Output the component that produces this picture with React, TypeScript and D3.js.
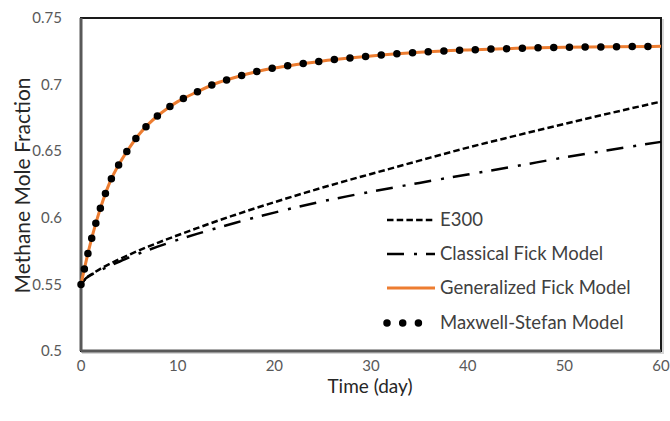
import React from "react";
import * as d3 from "d3";

const timeDays = [0, 0.5, 1, 1.5, 2, 3, 4, 5, 6, 7, 8, 9, 10, 12, 14, 16, 18, 20, 22.5, 25, 27.5, 30, 35, 40, 45, 50, 55, 60];
const e300 = [0.55, 0.5545, 0.5572, 0.5595, 0.5617, 0.5655, 0.569, 0.5723, 0.5755, 0.5785, 0.5814, 0.5842, 0.5869, 0.5922, 0.5974, 0.6023, 0.6071, 0.6117, 0.6173, 0.6227, 0.6279, 0.6329, 0.6429, 0.6527, 0.6617, 0.6705, 0.679, 0.6872];
const classicalFick = [0.55, 0.5545, 0.5569, 0.5589, 0.5607, 0.564, 0.5672, 0.5703, 0.5732, 0.5759, 0.5785, 0.581, 0.5834, 0.5879, 0.5922, 0.5963, 0.6002, 0.6039, 0.6083, 0.6124, 0.6161, 0.6196, 0.6262, 0.6325, 0.6388, 0.6453, 0.6513, 0.657];
const generalizedFick = [0.55, 0.5665, 0.5815, 0.595, 0.607, 0.627, 0.641, 0.6525, 0.6625, 0.6705, 0.677, 0.6825, 0.6872, 0.6945, 0.701, 0.7055, 0.7095, 0.7125, 0.7153, 0.7178, 0.7198, 0.7215, 0.7243, 0.726, 0.7272, 0.728, 0.7284, 0.7287];
const maxwellStefan = [0.55, 0.5665, 0.5815, 0.595, 0.607, 0.627, 0.641, 0.6525, 0.6625, 0.6705, 0.677, 0.6825, 0.6872, 0.6945, 0.701, 0.7055, 0.7095, 0.7125, 0.7153, 0.7178, 0.7198, 0.7215, 0.7243, 0.726, 0.7272, 0.728, 0.7284, 0.7287];

const xTicks = [0, 10, 20, 30, 40, 50, 60];
const yTicks = [0.5, 0.55, 0.6, 0.65, 0.7, 0.75];
const legendLabels = ["E300", "Classical Fick Model", "Generalized Fick Model", "Maxwell-Stefan Model"];

const W = 670;
const H = 421;
const left = 81;
const right = 661;
const top = 18;
const bottom = 351;
const FONT = "Lato, 'Open Sans', sans-serif";

export default function App() {
  const x = d3.scaleLinear().domain([0, 60]).range([left, right]);
  const y = d3.scaleLinear().domain([0.5, 0.75]).range([bottom, top]);
  const mk = (vals: number[]) =>
    d3
      .line<number>()
      .x((_, i) => x(timeDays[i]))
      .y((v) => y(v))
      .curve(d3.curveMonotoneX)(vals) as string;

  const legendY = [220, 254, 288, 323];
  const lx1 = 387;
  const lx2 = 435;

  return (
    <svg width={W} height={H} style={{ position: "absolute", left: 0, top: 0, background: "#fff" }}>
      {/* frame shadow */}
      <rect x={left + 2} y={top + 2} width={right - left} height={bottom - top} fill="none" stroke="#bbb" strokeWidth={2} opacity={0.6} />
      <rect x={left} y={top} width={right - left} height={bottom - top} fill="#fff" stroke="#1a1a1a" strokeWidth={2} />
      <line x1={left} x2={left} y1={top} y2={bottom} stroke="#595959" strokeWidth={3} />
      <line x1={left} x2={right} y1={bottom} y2={bottom} stroke="#595959" strokeWidth={3} />

      {/* series */}
      <path d={mk(e300)} fill="none" stroke="#000" strokeWidth={2.5} strokeDasharray="6.5 3.2" />
      <path d={mk(classicalFick)} fill="none" stroke="#000" strokeWidth={2.5} strokeDasharray="17 10 3 9" />
      <path d={mk(generalizedFick)} fill="none" stroke="#ED7D31" strokeWidth={3} />
      <path d={mk(maxwellStefan)} fill="none" stroke="#000" strokeWidth={7.5} strokeLinecap="round" strokeDasharray="0 15.7" />

      {/* y ticks */}
      {yTicks.map((t) => (
        <text key={t} x={62} y={y(t)} dy="0.35em" textAnchor="end" fontFamily={FONT} fontSize={15} fill="#595959">
          {String(t)}
        </text>
      ))}
      {/* x ticks */}
      {xTicks.map((t) => (
        <text key={t} x={x(t)} y={366} dy="0.35em" textAnchor="middle" fontFamily={FONT} fontSize={15} fill="#595959">
          {String(t)}
        </text>
      ))}

      <text x={370} y={386} dy="0.35em" textAnchor="middle" fontFamily={FONT} fontSize={19} fill="#262626">
        Time (day)
      </text>
      <text transform={`translate(23,${(top + bottom) / 2 + 1}) rotate(-90)`} dy="0.35em" textAnchor="middle" fontFamily={FONT} fontSize={21} fill="#262626">
        Methane Mole Fraction
      </text>

      {/* legend */}
      <line x1={lx1} x2={lx2} y1={legendY[0]} y2={legendY[0]} stroke="#000" strokeWidth={2.5} strokeDasharray="6.5 3.2" />
      <line x1={lx1} x2={lx2} y1={legendY[1]} y2={legendY[1]} stroke="#000" strokeWidth={2.5} strokeDasharray="17 10 3 9" />
      <line x1={lx1} x2={lx2} y1={legendY[2]} y2={legendY[2]} stroke="#ED7D31" strokeWidth={3} />
      <line x1={lx1} x2={lx1 + 32} y1={legendY[3]} y2={legendY[3]} stroke="#000" strokeWidth={7.5} strokeLinecap="round" strokeDasharray="0 15.7" />
      {legendLabels.map((l, i) => (
        <text key={l} x={440} y={legendY[i]} dy="0.35em" fontFamily={FONT} fontSize={18.5} fill="#404040">
          {l}
        </text>
      ))}
    </svg>
  );
}
